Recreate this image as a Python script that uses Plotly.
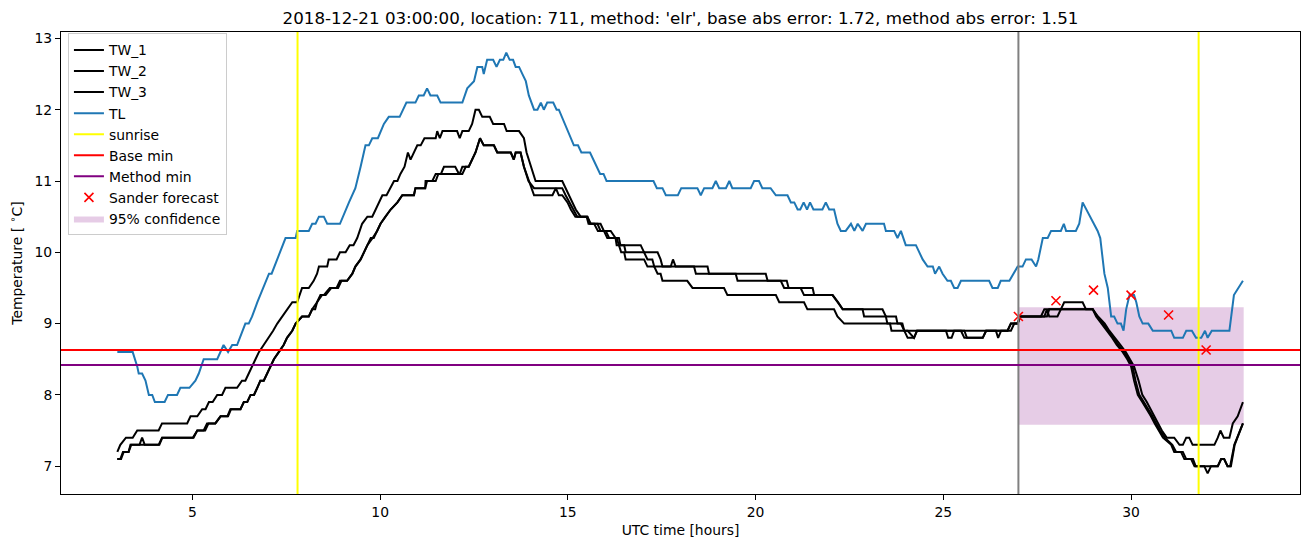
import plotly.graph_objects as go

# ---------------- data (hours UTC, temperature degC) ----------------
tl_hours = [3.00, 3.41, 3.53, 3.57, 3.66, 3.75, 3.84, 3.93, 4.00, 4.26, 4.35, 4.59, 4.68, 4.92, 5.08, 5.17,
            5.30, 5.66, 5.83, 5.95, 6.06, 6.19, 6.41, 6.50, 6.59, 6.73, 7.04, 7.11, 7.48, 7.75, 7.79,
            8.10, 8.19, 8.28, 8.37, 8.50, 8.59, 8.93, 9.17, 9.34, 9.48, 9.61, 9.70, 9.79, 9.94, 10.10,
            10.23, 10.52, 10.70, 10.94, 11.03, 11.16, 11.25, 11.34, 11.52, 11.61, 12.19, 12.32, 12.50,
            12.59, 12.72, 12.76, 12.85, 13.01, 13.10, 13.19, 13.28, 13.36, 13.45, 13.54, 13.61, 13.70,
            13.79, 13.88, 13.96, 14.10, 14.19, 14.28, 14.36, 14.45, 14.61, 14.70, 14.76, 15.16, 15.27,
            15.36, 15.59, 15.86, 15.95, 16.03, 17.28, 17.37, 17.52, 17.61, 17.93, 18.02, 18.45, 18.54,
            18.63, 18.85, 18.94, 19.03, 19.21, 19.30, 19.38, 19.87, 19.96, 20.09, 20.18, 20.40, 20.54,
            20.85, 20.94, 21.03, 21.12, 21.19, 21.28, 21.37, 21.45, 21.54, 21.78, 21.87, 21.96, 22.09,
            22.18, 22.27, 22.40, 22.54, 22.63, 22.72, 22.85, 22.94, 23.42, 23.47, 23.69, 23.78, 23.87,
            24.00, 24.27, 24.45, 24.58, 24.72, 24.78, 24.89, 24.98, 25.11, 25.20, 25.29, 25.38, 25.47,
            26.22, 26.31, 26.45, 26.53, 26.76, 26.98, 27.11, 27.20, 27.35, 27.47, 27.53, 27.65, 27.78,
            27.87, 28.13, 28.21, 28.27, 28.53, 28.62, 28.71, 29.11, 29.18, 29.29, 29.38, 29.47, 29.55,
            29.64, 29.73, 29.80, 29.87, 29.96, 30.08, 30.14, 30.22, 30.31, 30.46, 30.58, 31.07, 31.15,
            31.38, 31.47, 31.62, 31.73, 31.87, 31.97, 32.04, 32.15, 32.62, 32.74, 32.98]
tl_temp = [8.6, 8.6, 8.4, 8.3, 8.3, 8.2, 8.0, 8.0, 7.9, 7.9, 8.0, 8.0, 8.1, 8.1, 8.2, 8.3,
           8.5, 8.5, 8.7, 8.6, 8.7, 8.7, 9.0, 9.0, 9.1, 9.3, 9.7, 9.7, 10.2, 10.2, 10.3,
           10.3, 10.4, 10.4, 10.5, 10.5, 10.4, 10.4, 10.7, 10.9, 11.2, 11.5, 11.5, 11.6, 11.6, 11.8,
           11.9, 11.9, 12.1, 12.1, 12.2, 12.2, 12.3, 12.2, 12.2, 12.1, 12.1, 12.3, 12.4,
           12.6, 12.6, 12.5, 12.7, 12.7, 12.6, 12.7, 12.7, 12.8, 12.7, 12.7, 12.6, 12.6,
           12.5, 12.4, 12.2, 12.0, 12.0, 12.1, 12.0, 12.1, 12.1, 12.0, 12.0, 11.5, 11.5,
           11.4, 11.4, 11.1, 11.1, 11.0, 11.0, 10.9, 10.9, 10.8, 10.8, 10.9, 10.9, 10.8,
           10.9, 10.9, 11.0, 10.9, 10.9, 11.0, 10.9, 10.9, 11.0, 11.0, 10.9, 10.9, 10.8,
           10.8, 10.7, 10.7, 10.6, 10.6, 10.7, 10.6, 10.7, 10.6, 10.6, 10.7, 10.6, 10.6,
           10.4, 10.3, 10.3, 10.4, 10.3, 10.4, 10.3, 10.4, 10.4, 10.3, 10.3, 10.2, 10.3,
           10.1, 10.1, 9.9, 9.8, 9.8, 9.7, 9.8, 9.7, 9.6, 9.6, 9.5, 9.5, 9.6,
           9.6, 9.5, 9.5, 9.6, 9.6, 9.8, 9.8, 9.9, 9.9, 9.8, 9.9, 10.2, 10.2,
           10.3, 10.3, 10.4, 10.3, 10.3, 10.4, 10.7, 10.3, 10.2, 9.7, 9.5, 9.1, 9.1,
           9.0, 9.0, 8.9, 9.2, 9.4, 9.4, 9.3, 9.1, 9.0, 9.0, 8.9, 8.9, 8.8,
           8.8, 8.9, 8.9, 8.8, 8.8, 8.9, 8.8, 8.9, 8.9, 9.4, 9.6]

tw1_hours = [3.00, 3.08, 3.23, 3.41, 3.53, 4.10, 4.19, 4.86, 4.95, 5.13, 5.26, 5.35, 5.44, 5.54, 5.66, 5.79,
             5.88, 6.19, 6.32, 6.41, 6.50, 6.60, 6.68, 6.77, 6.90, 7.04, 7.15, 7.26, 7.39, 7.52, 7.66,
             7.79, 7.85, 7.92, 8.10, 8.23, 8.32, 8.37, 8.59, 8.63, 8.84, 8.93, 9.08, 9.19, 9.29, 9.39,
             9.52, 9.66, 9.79, 9.88, 9.97, 10.06, 10.17, 10.26, 10.37, 10.46, 10.54, 10.65, 10.74, 10.81,
             10.90, 10.99, 11.08, 11.18, 11.48, 11.52, 11.59, 11.66, 12.05, 12.12, 12.19, 12.36, 12.45,
             12.54, 12.63, 12.72, 12.92, 13.01, 13.30, 13.37, 13.70, 13.83, 13.90, 14.01, 14.14, 14.85,
             14.94, 15.12, 15.21, 15.34, 15.52, 15.61, 15.87, 15.96, 16.14, 16.27, 16.36, 16.40, 16.94,
             17.03, 17.39, 17.47, 17.52, 17.74, 17.80, 17.87, 18.72, 18.76, 20.27, 20.32, 20.67, 20.76,
             21.20, 21.29, 22.05, 22.20, 22.32, 23.38, 23.47, 23.74, 23.78, 23.87, 23.96, 24.05, 24.22,
             24.30, 25.56, 25.63, 26.05, 26.14, 26.40, 26.46, 26.54, 26.71, 26.80, 26.98, 27.05, 27.60,
             27.69, 28.13, 28.22, 28.71, 28.80, 28.98, 29.12, 29.30, 29.42, 29.58, 29.72, 29.86, 29.98,
             30.08, 30.20, 30.30, 30.42, 30.52, 30.62, 30.72, 30.82, 30.95, 31.15, 31.29, 31.38, 31.47,
             31.55, 31.64, 32.22, 32.31, 32.38, 32.47, 32.62, 32.71, 32.84, 32.98]
tw1_temp = [7.2, 7.3, 7.4, 7.4, 7.5, 7.5, 7.6, 7.6, 7.7, 7.7, 7.8, 7.8, 7.9, 7.9, 8.0, 8.0,
            8.1, 8.1, 8.2, 8.2, 8.3, 8.4, 8.5, 8.6, 8.7, 8.8, 8.9, 9.0, 9.1, 9.2, 9.3,
            9.3, 9.4, 9.5, 9.5, 9.6, 9.7, 9.8, 9.8, 9.9, 9.9, 10.0, 10.0, 10.1, 10.1, 10.2,
            10.4, 10.5, 10.5, 10.6, 10.7, 10.8, 10.8, 10.9, 11.0, 11.0, 11.1, 11.2, 11.4, 11.3,
            11.4, 11.5, 11.5, 11.6, 11.6, 11.7, 11.6, 11.7, 11.7, 11.6, 11.7, 11.7, 11.8,
            12.0, 12.0, 11.9, 11.9, 11.8, 11.8, 11.7, 11.7, 11.6, 11.4, 11.2, 11.0, 11.0,
            10.9, 10.7, 10.6, 10.5, 10.5, 10.4, 10.4, 10.3, 10.3, 10.2, 10.2, 10.1, 10.1,
            10.0, 10.0, 9.9, 9.8, 9.8, 9.9, 9.8, 9.8, 9.7, 9.7, 9.6, 9.6, 9.5,
            9.5, 9.4, 9.4, 9.3, 9.2, 9.2, 9.1, 9.1, 9.0, 9.0, 8.9, 8.8, 8.8,
            8.9, 8.9, 8.8, 8.8, 8.9, 8.9, 8.8, 8.9, 8.9, 9.0, 9.0, 9.1, 9.1,
            9.2, 9.2, 9.3, 9.3, 9.2, 9.2, 9.1, 9.0, 8.9, 8.8, 8.7, 8.6, 8.5,
            8.4, 8.2, 8.0, 7.9, 7.8, 7.7, 7.6, 7.5, 7.4, 7.4, 7.3, 7.3, 7.4,
            7.4, 7.3, 7.3, 7.4, 7.5, 7.4, 7.4, 7.6, 7.7, 7.9]

tw2_hours = [3.00, 3.08, 3.15, 3.30, 3.35, 3.59, 3.66, 3.73, 4.10, 4.19, 5.01, 5.13, 5.30, 5.39, 5.61, 5.75,
             5.93, 6.01, 6.28, 6.37, 6.46, 6.55, 6.64, 6.73, 6.81, 6.90, 6.99, 7.08, 7.17, 7.30, 7.43,
             7.52, 7.66, 7.75, 7.92, 8.10, 8.19, 8.27, 8.32, 8.41, 8.50, 8.66, 8.84, 8.93, 9.12, 9.26,
             9.34, 9.48, 9.57, 9.66, 9.75, 9.83, 9.92, 10.01, 10.14, 10.28, 10.46, 10.59, 10.90, 10.94,
             11.20, 11.21, 11.39, 11.48, 11.62, 11.70, 12.00, 12.10, 12.19, 12.28, 12.36, 12.45, 12.54,
             12.66, 12.76, 13.03, 13.12, 13.48, 13.56, 13.61, 13.74, 13.83, 13.95, 14.10, 14.85, 14.94,
             15.05, 15.16, 15.25, 15.52, 15.58, 15.79, 15.87, 16.01, 16.10, 16.30, 16.36, 16.50, 16.54,
             17.03, 17.12, 17.25, 17.30, 18.36, 18.41, 19.47, 19.52, 20.83, 20.88, 21.52, 21.56, 22.05,
             22.18, 22.32, 22.85, 22.89, 23.47, 23.51, 23.91, 23.96, 25.07, 25.13, 25.22, 25.29, 26.80,
             26.89, 26.98, 27.05, 27.69, 27.76, 27.82, 28.04, 28.13, 28.98, 29.07, 29.22, 29.35, 29.50,
             29.62, 29.78, 29.90, 30.00, 30.08, 30.18, 30.30, 30.42, 30.53, 30.63, 30.73, 30.85, 31.07,
             31.15, 31.33, 31.42, 31.60, 31.69, 31.95, 32.04, 32.13, 32.31, 32.40, 32.48, 32.57, 32.64,
             32.75, 32.98]
tw2_temp = [7.1, 7.1, 7.2, 7.2, 7.3, 7.3, 7.4, 7.3, 7.3, 7.4, 7.4, 7.5, 7.5, 7.6, 7.6, 7.7,
            7.7, 7.8, 7.8, 7.9, 7.9, 8.0, 8.0, 8.1, 8.2, 8.2, 8.3, 8.4, 8.5, 8.6, 8.7,
            8.8, 8.9, 9.0, 9.1, 9.1, 9.2, 9.2, 9.3, 9.4, 9.4, 9.5, 9.5, 9.6, 9.6, 9.7,
            9.8, 9.9, 10.0, 10.1, 10.2, 10.2, 10.3, 10.4, 10.5, 10.6, 10.7, 10.8, 10.8, 10.9,
            10.9, 11.0, 11.0, 11.1, 11.1, 11.2, 11.2, 11.1, 11.1, 11.2, 11.2, 11.3, 11.4,
            11.6, 11.5, 11.5, 11.4, 11.4, 11.3, 11.4, 11.4, 11.2, 11.0, 10.9, 10.9, 10.8,
            10.7, 10.6, 10.5, 10.5, 10.4, 10.4, 10.3, 10.3, 10.2, 10.2, 10.1, 10.1, 10.0,
            10.0, 9.9, 9.9, 9.8, 9.8, 9.7, 9.7, 9.6, 9.6, 9.5, 9.5, 9.4, 9.4,
            9.3, 9.2, 9.2, 9.1, 9.1, 9.0, 9.0, 8.9, 8.9, 8.8, 8.8, 8.9, 8.9,
            9.0, 9.0, 9.1, 9.1, 9.2, 9.1, 9.1, 9.2, 9.2, 9.1, 9.0, 8.9, 8.8,
            8.7, 8.6, 8.5, 8.4, 8.2, 8.0, 7.9, 7.8, 7.7, 7.6, 7.5, 7.4, 7.3,
            7.2, 7.2, 7.1, 7.1, 7.0, 7.0, 6.9, 7.0, 7.0, 7.1, 7.1, 7.0, 7.0,
            7.3, 7.6]

tw3_hours = [3.00, 3.10, 3.17, 3.30, 3.37, 4.12, 4.20, 5.03, 5.13, 5.34, 5.43, 5.61, 5.75, 5.95, 6.03, 6.28,
             6.37, 6.46, 6.55, 6.64, 6.73, 6.81, 6.90, 6.99, 7.08, 7.17, 7.30, 7.43, 7.52, 7.66, 7.75,
             7.92, 8.10, 8.19, 8.32, 8.45, 8.55, 8.70, 8.88, 8.97, 9.12, 9.26, 9.34, 9.48, 9.57, 9.66,
             9.80, 9.92, 10.01, 10.14, 10.28, 10.46, 10.59, 10.90, 10.94, 11.20, 11.25, 11.48, 11.55,
             12.12, 12.19, 12.36, 12.45, 12.54, 12.66, 12.76, 13.03, 13.12, 13.48, 13.56, 13.61, 13.74,
             13.83, 14.10, 14.59, 14.68, 14.76, 14.85, 14.99, 15.08, 15.20, 15.50, 15.55, 15.70, 15.80,
             15.96, 16.05, 16.27, 16.30, 16.36, 16.42, 16.50, 16.54, 17.03, 17.12, 17.30, 17.39, 17.47,
             17.52, 18.18, 18.32, 19.16, 19.25, 20.54, 20.63, 21.29, 21.38, 22.09, 22.18, 22.36, 23.58,
             23.62, 24.05, 24.22, 24.30, 25.47, 25.56, 26.05, 26.14, 26.71, 26.80, 26.98, 27.05, 27.76,
             27.82, 28.98, 29.10, 29.26, 29.39, 29.54, 29.66, 29.82, 29.94, 30.04, 30.12, 30.22, 30.34,
             30.46, 30.57, 30.67, 30.77, 30.90, 31.10, 31.20, 31.38, 31.47, 31.65, 31.72, 32.31, 32.40,
             32.48, 32.57, 32.66, 32.76, 32.98]
tw3_temp = [7.1, 7.1, 7.2, 7.2, 7.3, 7.3, 7.4, 7.4, 7.5, 7.5, 7.6, 7.6, 7.7, 7.7, 7.8, 7.8,
            7.9, 7.9, 8.0, 8.0, 8.1, 8.2, 8.2, 8.3, 8.4, 8.5, 8.6, 8.7, 8.8, 8.9, 9.0,
            9.1, 9.1, 9.2, 9.3, 9.4, 9.4, 9.5, 9.5, 9.6, 9.6, 9.7, 9.8, 9.9, 10.0, 10.1,
            10.2, 10.3, 10.4, 10.5, 10.6, 10.7, 10.8, 10.8, 10.9, 10.9, 11.0, 11.0, 11.1,
            11.1, 11.2, 11.2, 11.3, 11.4, 11.6, 11.5, 11.5, 11.4, 11.4, 11.3, 11.4, 11.4,
            11.2, 10.8, 10.8, 10.9, 10.8, 10.8, 10.7, 10.6, 10.5, 10.5, 10.4, 10.4, 10.3,
            10.3, 10.2, 10.2, 10.1, 10.1, 10.0, 10.0, 9.9, 9.9, 9.8, 9.8, 9.7, 9.7,
            9.6, 9.6, 9.5, 9.5, 9.4, 9.4, 9.3, 9.3, 9.2, 9.2, 9.1, 9.0, 9.0,
            8.9, 8.9, 8.8, 8.9, 8.9, 8.8, 8.8, 8.9, 8.9, 9.0, 9.0, 9.1, 9.1,
            9.2, 9.2, 9.1, 9.0, 8.9, 8.8, 8.7, 8.6, 8.5, 8.4, 8.2, 8.0, 7.9,
            7.8, 7.7, 7.6, 7.5, 7.4, 7.3, 7.2, 7.2, 7.1, 7.1, 7.0, 7.0, 7.1,
            7.1, 7.0, 7.0, 7.3, 7.6]

sunrise_hours = [7.80, 31.80]
forecast_hour = 27.0
base_min = 8.63
method_min = 8.42

sander_hours = [27, 28, 29, 30, 31, 32]
sander_temp = [9.10, 9.32, 9.47, 9.40, 9.12, 8.63]

conf_hours = [27.0, 33.0]
conf_low = 7.58
conf_high = 9.23

title_text = ("2018-12-21 03:00:00, location: 711, method: 'elr', "
              "base abs error: 1.72, method abs error: 1.51")

# ---------------- figure ----------------
FONT = "DejaVu Sans"
fig = go.Figure()

# 95% confidence band (drawn first so it sits under the lines)
fig.add_trace(go.Scatter(
    x=[conf_hours[0], conf_hours[1], conf_hours[1], conf_hours[0], conf_hours[0]],
    y=[conf_low, conf_low, conf_high, conf_high, conf_low],
    mode="lines", fill="toself", fillcolor="rgba(128,0,128,0.2)",
    line=dict(width=0, color="rgba(128,0,128,0)"),
    name="95% confidence", legendrank=9, hoverinfo="skip"))

for i, (hx, ty, nm) in enumerate([(tw1_hours, tw1_temp, "TW_1"),
                                   (tw2_hours, tw2_temp, "TW_2"),
                                   (tw3_hours, tw3_temp, "TW_3")]):
    fig.add_trace(go.Scatter(x=hx, y=ty, mode="lines", name=nm,
                             line=dict(color="black", width=2), legendrank=1 + i))

fig.add_trace(go.Scatter(x=tl_hours, y=tl_temp, mode="lines", name="TL",
                         line=dict(color="#1f77b4", width=2), legendrank=4))

# legend entries for reference lines
fig.add_trace(go.Scatter(x=[None], y=[None], mode="lines", name="sunrise",
                         line=dict(color="#ffff00", width=2), legendrank=5))
fig.add_trace(go.Scatter(x=[None], y=[None], mode="lines", name="Base min",
                         line=dict(color="#ff0000", width=2), legendrank=6))
fig.add_trace(go.Scatter(x=[None], y=[None], mode="lines", name="Method min",
                         line=dict(color="#800080", width=2), legendrank=7))

fig.add_trace(go.Scatter(x=sander_hours, y=sander_temp, mode="markers", name="Sander forecast",
                         marker=dict(symbol="x-thin", size=9, color="red",
                                     line=dict(color="red", width=1.6)),
                         legendrank=8))

# reference lines
for h in sunrise_hours:
    fig.add_shape(type="line", xref="x", yref="paper", x0=h, x1=h, y0=0, y1=1,
                  line=dict(color="#ffff00", width=2), layer="above")
fig.add_shape(type="line", xref="x", yref="paper", x0=forecast_hour, x1=forecast_hour,
              y0=0, y1=1, line=dict(color="#808080", width=2), layer="above")
fig.add_shape(type="line", xref="paper", yref="y", x0=0, x1=1, y0=base_min, y1=base_min,
              line=dict(color="#ff0000", width=2), layer="above")
fig.add_shape(type="line", xref="paper", yref="y", x0=0, x1=1, y0=method_min, y1=method_min,
              line=dict(color="#800080", width=2), layer="above")

axis_common = dict(showgrid=False, zeroline=False, showline=True, mirror=True,
                   linecolor="black", linewidth=1, ticks="outside", ticklen=5,
                   tickcolor="black", tickfont=dict(family=FONT, size=13.9, color="black"))

fig.update_xaxes(range=[1.5, 34.5], tickmode="linear", tick0=0, dtick=5,
                 title=dict(text="UTC time [hours]", font=dict(family=FONT, size=13.9, color="black"),
                            standoff=6),
                 **axis_common)
fig.update_yaxes(range=[6.61, 13.09], tickmode="linear", tick0=0, dtick=1,
                 title=dict(text="Temperature [ <sup>∘</sup>C]",
                            font=dict(family=FONT, size=13.9, color="black"), standoff=8),
                 **axis_common)

fig.update_layout(
    width=1311, height=547,
    margin=dict(l=61, r=11, t=32, b=53, autoexpand=False),
    paper_bgcolor="white", plot_bgcolor="white",
    font=dict(family=FONT, color="black"),
    title=dict(text=title_text, x=0.5, xref="paper", xanchor="center",
               y=1 - 18 / 547, yref="container", yanchor="middle",
               font=dict(family=FONT, size=16.7, color="black")),
    legend=dict(x=0.0056, y=0.997, xanchor="left", yanchor="top",
                bgcolor="rgba(255,255,255,0.8)", bordercolor="#cccccc", borderwidth=1,
                font=dict(family=FONT, size=13.9, color="black"),
                itemwidth=30, tracegroupgap=0),
    showlegend=True,
)

fig.write_html("out.html")
